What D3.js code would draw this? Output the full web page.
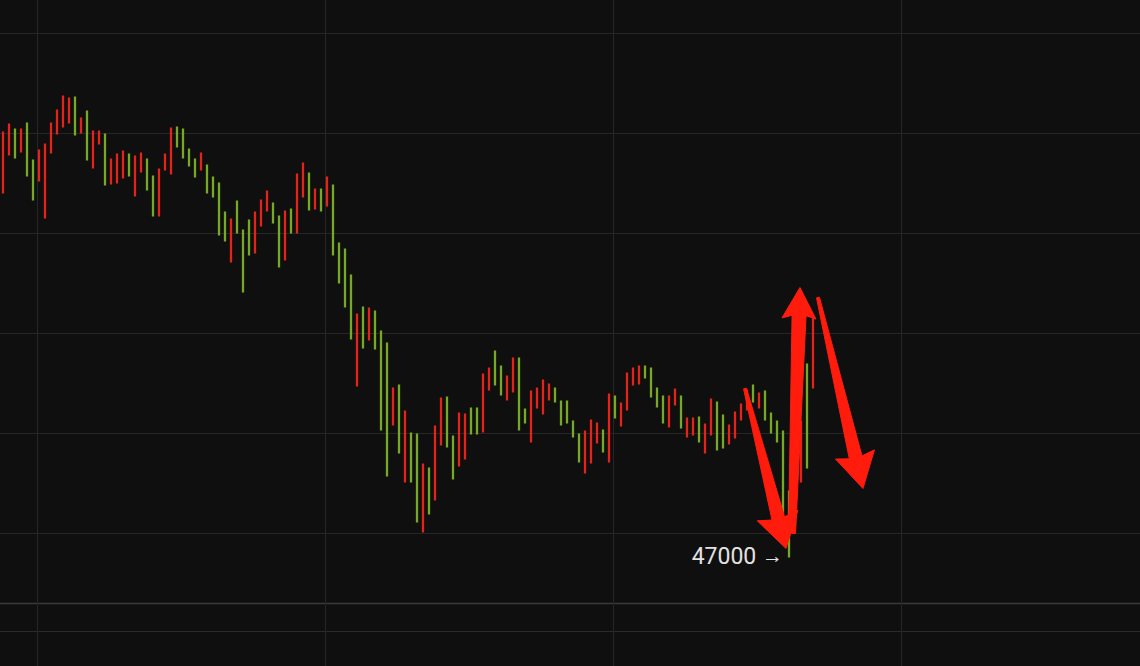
<!DOCTYPE html>
<html>
<head>
<meta charset="utf-8">
<script src="https://cdn.jsdelivr.net/npm/d3@7/dist/d3.min.js"></script>
<style>
html, body { margin: 0; padding: 0; background: #0f0f0f; overflow: hidden; }
</style>
</head>
<body>
<div id="chart"></div>
<script>
// hourly bars (high / low, 1 = up bar, 0 = down bar)
var highs = [
  51260,51340,51290,51290,51350,50980,51080,51140,51350,51480,
  51620,51600,51610,51400,51470,51270,51270,51240,50990,51040,
  51070,51040,51020,51050,50990,50820,50890,51040,51300,51310,
  51290,51090,50990,51050,50930,50810,50750,50460,50390,50570,
  50280,50380,50460,50580,50670,50550,50420,50470,50490,50840,
  50950,50850,50690,50690,50810,50730,50150,50090,49830,49440,
  49510,49500,49470,49270,49150,48700,48730,48470,48250,48240,
  47940,47900,48320,48600,48610,48220,48450,48440,48500,48500,
  48840,48900,49070,48920,48820,49000,49000,48490,48670,48700,
  48780,48740,48700,48570,48570,48370,48240,48270,48380,48350,
  48280,48640,48620,48550,48850,48900,48920,48920,48900,48700,
  48620,48620,48690,48620,48400,48400,48410,48340,48590,48560,
  48430,48330,48460,48540,48680,48730,48650,48670,48450,48370,
  48270,47670,49570,48370,48940,49400
];
var lows = [
  50640,51020,50990,51050,50810,50570,50760,50390,51040,51230,
  51300,51340,51220,51240,50970,50890,51130,50720,50730,50740,
  50790,50810,50610,50850,50670,50410,50410,50870,50830,51100,
  50990,50910,50800,50870,50640,50600,50220,50160,49950,50240,
  49650,50020,50040,50310,50460,50340,49900,49970,50240,50240,
  50600,50470,50480,50460,50510,50020,49740,49500,49180,48710,
  49090,49170,49080,48270,47810,48320,48040,47750,47750,47350,
  47250,47430,47570,48120,48100,47780,47910,47980,48230,48230,
  48250,48670,48720,48620,48570,48650,48270,48340,48150,48490,
  48430,48570,48550,48320,48340,48200,47950,47840,47940,48140,
  48050,47950,48390,48310,48470,48720,48730,48790,48600,48500,
  48340,48300,48520,48290,48200,48220,48150,48040,48220,48070,
  48090,48130,48190,48370,48470,48550,48490,48370,48240,48150,
  47440,47000,47320,47750,47890,48690
];
var ups = [
  0,0,1,0,1,1,0,0,0,0,
  0,0,1,0,1,0,0,1,0,0,
  0,1,0,0,1,1,0,0,0,1,
  1,1,1,0,1,1,1,1,0,1,
  1,1,0,0,0,1,1,0,1,0,
  0,1,0,1,0,1,1,1,1,0,
  1,0,1,1,1,0,1,0,1,1,
  0,1,0,0,1,1,0,0,1,1,
  0,0,1,1,0,0,1,1,0,0,
  0,0,1,1,1,1,1,0,0,0,
  1,0,1,0,0,0,0,1,1,1,
  1,0,0,1,0,0,1,0,0,1,
  1,0,0,0,0,1,0,1,1,1,
  1,1,1,0,1,0
];

// grid
var gridPrices = [47250, 48250, 49250, 50250, 51250, 52250];
var gridBars = [5.6, 53.6, 101.6, 149.6];

// annotation: marked low and the hand drawn arrows [tailBar, tailPrice, tipBar, tipPrice]
var markBar = 131, markPrice = 47000, markLabel = "47000";
var arrowPaths = [
  [123.67, 48690, 130.5, 47090],
  [131.5, 47240, 132.83, 49700],
  [135.83, 49600, 143.33, 47690]
];

var width = 1140, height = 666;

var svg = d3.select("#chart")
  .append("svg")
  .attr("width", width)
  .attr("height", height)
  .style("display", "block");

svg.append("rect")
  .attr("width", width).attr("height", height)
  .attr("fill", "#0f0f0f");

var x = d3.scaleLinear().domain([0, 135]).range([3, 813]);
var y = d3.scaleLinear().domain([47000, 52250]).range([557.5, 32.5]);

// horizontal grid
svg.append("g").selectAll("line")
  .data(gridPrices).enter().append("line")
  .attr("x1", 0).attr("x2", width)
  .attr("y1", function(d) { return Math.round(y(d)) + 0.5; })
  .attr("y2", function(d) { return Math.round(y(d)) + 0.5; })
  .attr("stroke", "#262626")
  .attr("stroke-width", 1);

// pane separators at the bottom
svg.append("line")
  .attr("x1", 0).attr("x2", width).attr("y1", 603.5).attr("y2", 603.5)
  .attr("stroke", "#3a3a3a").attr("stroke-width", 1.5);
svg.append("line")
  .attr("x1", 0).attr("x2", width).attr("y1", 631.5).attr("y2", 631.5)
  .attr("stroke", "#2a2a2a").attr("stroke-width", 1);

// vertical grid
svg.append("g").selectAll("line")
  .data(gridBars).enter().append("line")
  .attr("x1", function(d) { return Math.round(x(d)) + 0.5; })
  .attr("x2", function(d) { return Math.round(x(d)) + 0.5; })
  .attr("y1", 0).attr("y2", height)
  .attr("stroke", "#262626")
  .attr("stroke-width", 1);

// bars
svg.append("g").selectAll("line")
  .data(highs).enter().append("line")
  .attr("x1", function(d, i) { return x(i); })
  .attr("x2", function(d, i) { return x(i); })
  .attr("y1", function(d) { return y(d); })
  .attr("y2", function(d, i) { return y(lows[i]); })
  .attr("stroke", function(d, i) { return ups[i] ? "#76aa26" : "#e4231a"; })
  .attr("stroke-width", 2.3);

// label at the low
var label = svg.append("text")
  .attr("x", x(markBar) - 6)
  .attr("y", y(markPrice) + 6)
  .attr("text-anchor", "end")
  .attr("fill", "#e2e2e2")
  .style("font-family", "Roboto, 'Noto Sans', sans-serif");
label.append("tspan").style("font-size", "23px").text(markLabel + " ");
label.append("tspan").style("font-size", "21px").attr("dy", -1).text("\u2192");

// arrows drawn on top
function arrowPoly(a, tailW, shaftW, headLen, headHalf) {
  var x0 = x(a[0]), y0 = y(a[1]), x1 = x(a[2]), y1 = y(a[3]);
  var dx = x1 - x0, dy = y1 - y0, len = Math.sqrt(dx * dx + dy * dy);
  var ux = dx / len, uy = dy / len, nx = -uy, ny = ux;
  var bx = x1 - ux * headLen, by = y1 - uy * headLen;
  return [
    [x0 + nx * tailW / 2, y0 + ny * tailW / 2],
    [bx + nx * shaftW / 2, by + ny * shaftW / 2],
    [bx + nx * headHalf - ux * 3, by + ny * headHalf - uy * 3],
    [x1, y1],
    [bx - nx * headHalf - ux * 3, by - ny * headHalf - uy * 3],
    [bx - nx * shaftW / 2, by - ny * shaftW / 2],
    [x0 - nx * tailW / 2, y0 - ny * tailW / 2]
  ];
}
var arrowStyle = [[3, 13, 31, 21], [7, 14, 28, 17], [3, 13, 32, 20]];

svg.append("g").selectAll("path")
  .data(arrowPaths).enter().append("path")
  .attr("d", function(d, i) {
    var s = arrowStyle[i];
    return d3.line().curve(d3.curveLinearClosed)(arrowPoly(d, s[0], s[1], s[2], s[3]));
  })
  .attr("fill", "#ff1c0c")
  .attr("stroke", "#ff1c0c")
  .attr("stroke-width", 1)
  .attr("stroke-linejoin", "round");
</script>
</body>
</html>
